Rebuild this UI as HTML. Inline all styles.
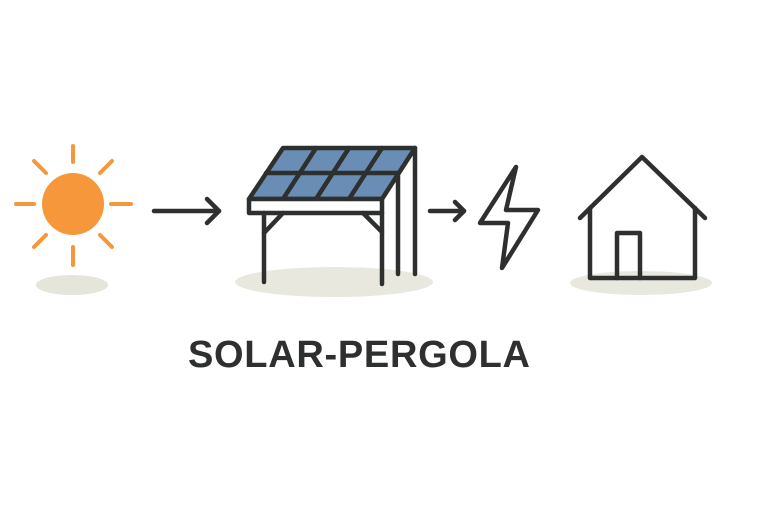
<!DOCTYPE html>
<html><head><meta charset="utf-8"><style>html,body{margin:0;padding:0;background:#fff}svg{display:block}</style></head>
<body>
<svg width="768" height="512" viewBox="0 0 768 512" xmlns="http://www.w3.org/2000/svg">
<rect width="768" height="512" fill="#fff"/>
<ellipse cx="72" cy="285" rx="36" ry="10" fill="#e6e5dc"/>
<ellipse cx="334" cy="282" rx="99" ry="15" fill="#e9e8df"/>
<ellipse cx="641" cy="283" rx="71" ry="12" fill="#e9e8df"/>
<g stroke="#f5973a" stroke-width="4" stroke-linecap="round">
<line x1="73" y1="146" x2="73" y2="162"/>
<line x1="73" y1="247" x2="73" y2="265"/>
<line x1="16" y1="204" x2="34" y2="204"/>
<line x1="111" y1="204" x2="131" y2="204"/>
<line x1="34" y1="161" x2="46" y2="173"/>
<line x1="112" y1="161" x2="100" y2="173"/>
<line x1="34" y1="247" x2="46" y2="235"/>
<line x1="112" y1="247" x2="100" y2="235"/>
</g>
<circle cx="73" cy="204" r="31" fill="#f5973a"/>
<g stroke="#2e2f2f" stroke-width="4.5" fill="none" stroke-linecap="round" stroke-linejoin="round">
<line x1="154" y1="211" x2="219" y2="211"/>
<polyline points="207,199 219,211 207,223"/>
<line x1="430" y1="211" x2="464" y2="211"/>
<polyline points="455,202 464,211 455,220"/>
</g>
<g stroke="#2e2f2f" stroke-width="4.5" fill="none" stroke-linejoin="round" stroke-linecap="round">
<polygon points="283,148 415,148 382,199 249,199" fill="#6a8db5"/>
<line x1="266" y1="173" x2="398" y2="173"/>
<line x1="316" y1="148" x2="283" y2="199"/>
<line x1="349" y1="148" x2="316" y2="199"/>
<line x1="382" y1="148" x2="349" y2="199"/>
<rect x="249" y="199" width="133" height="14" fill="#fff"/>
<line x1="264" y1="213" x2="264" y2="282"/>
<line x1="382" y1="213" x2="382" y2="284"/>
<line x1="264" y1="233" x2="283" y2="213"/>
<line x1="363" y1="213" x2="382" y2="232"/>
<line x1="398" y1="173" x2="398" y2="274"/>
<line x1="415" y1="148" x2="415" y2="274"/>
</g>
<polygon points="516,167 480,223 508,223 502,268 538,210 506,210" fill="none" stroke="#2e2f2f" stroke-width="4.5" stroke-linejoin="round"/>
<g stroke="#2e2f2f" stroke-width="4.5" fill="none" stroke-linejoin="round" stroke-linecap="round">
<polyline points="580,218 642,157 705,218"/>
<polyline points="590,208 590,278 695,278 695,208"/>
<polyline points="617,278 617,233 640,233 640,278"/>
</g>
<text x="188" y="367" font-family="Liberation Sans, sans-serif" font-weight="bold" font-size="38" fill="#2e2f2f" textLength="342" lengthAdjust="spacing">SOLAR-PERGOLA</text>
</svg>
</body></html>
